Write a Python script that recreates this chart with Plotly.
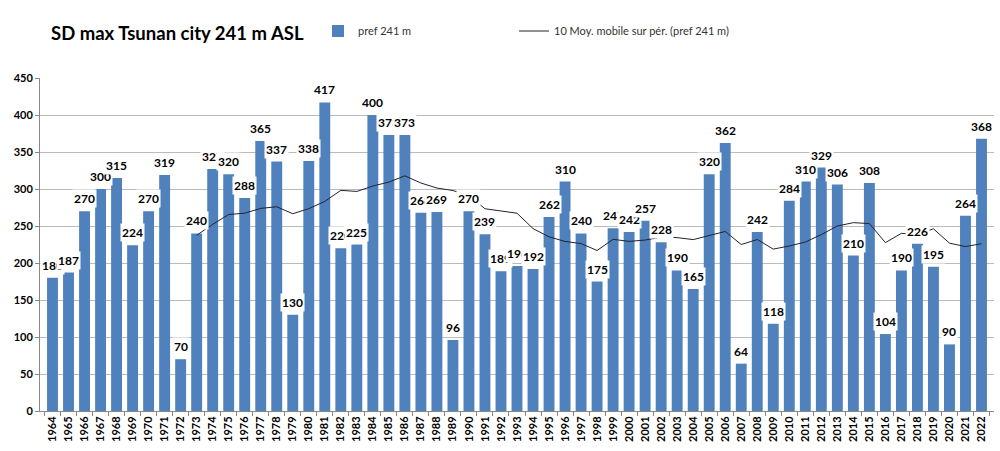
import plotly.graph_objects as go
import pandas as pd

years = list(range(1964, 2023))
snow_depth = [180, 187, 270, 300, 315, 224, 270, 319, 70, 240,
              327, 320, 288, 365, 337, 130, 338, 417, 220, 225,
              400, 373, 373, 268, 269, 96, 270, 239, 189, 196,
              192, 262, 310, 240, 175, 247, 242, 257, 228, 190,
              165, 320, 362, 64, 242, 118, 284, 310, 329, 306,
              210, 308, 104, 190, 226, 195, 90, 264, 368]
y_ticks = [0, 50, 100, 150, 200, 250, 300, 350, 400, 450]

# 10-period moving average trendline (as in the original spreadsheet)
moving_avg = pd.Series(snow_depth).rolling(10).mean().tolist()

xlabels = [str(y) for y in years]
FONT = "Lato"

L, R, T, B = 40, 6, 78, 40
PW, PH = 1000 - L - R, 451 - T - B


def px_x(p):
    return (p - L) / PW


def px_y(p):
    return 1 + (T - p) / PH


fig = go.Figure()
fig.add_trace(go.Bar(
    x=xlabels, y=snow_depth, name="pref 241 m",
    marker=dict(color="#4F81BD", line=dict(width=0)),
    width=0.68, legend="legend",
))
fig.add_trace(go.Scatter(
    x=xlabels, y=moving_avg, name="10 Moy. mobile sur pér. (pref 241 m)",
    mode="lines", line=dict(color="#222233", width=1), legend="legend2",
))

for i, v in enumerate(snow_depth):
    fig.add_annotation(
        x=i, y=v, xref="x", yref="y", text="<b>%d</b>" % v,
        showarrow=False, yanchor="bottom", yshift=3,
        bgcolor="white", borderpad=1,
        font=dict(family=FONT, size=12, color="black"),
    )

fig.add_annotation(
    xref="paper", yref="paper", x=px_x(49), y=px_y(33),
    text="<b>SD max Tsunan city 241 m ASL</b>",
    showarrow=False, xanchor="left", yanchor="middle",
    font=dict(family=FONT, size=18.5, color="black"),
)

legend_common = dict(orientation="h", xref="paper", yref="paper", yanchor="middle",
                     xanchor="left", font=dict(family=FONT, size=11, color="#333333"),
                     bgcolor="rgba(0,0,0,0)", itemwidth=30)

fig.update_layout(
    width=1000, height=451,
    margin=dict(l=L, r=R, t=T, b=B, autoexpand=False),
    paper_bgcolor="white", plot_bgcolor="white",
    showlegend=True,
    legend=dict(x=px_x(318), y=px_y(31), **legend_common),
    legend2=dict(x=px_x(514), y=px_y(31), **legend_common),
    bargap=0.32,
    font=dict(family=FONT),
)
fig.update_xaxes(
    type="category", tickangle=-90, showgrid=False, tickson="boundaries",
    showline=True, linecolor="#888888", ticks="outside", ticklen=4, tickcolor="#888888",
    tickfont=dict(family=FONT, size=11, color="black", weight="bold"),
)
fig.update_yaxes(
    range=[0, 450], tickvals=y_ticks, showgrid=True, gridcolor="#BBBBBB", gridwidth=1,
    showline=True, linecolor="#888888", ticks="outside", ticklen=4, tickcolor="#888888",
    tickfont=dict(family=FONT, size=11, color="black", weight="bold"),
    zeroline=False,
)

fig.write_html("out.html", config={"displayModeBar": False},
               post_script="document.body.style.margin='0px';")
